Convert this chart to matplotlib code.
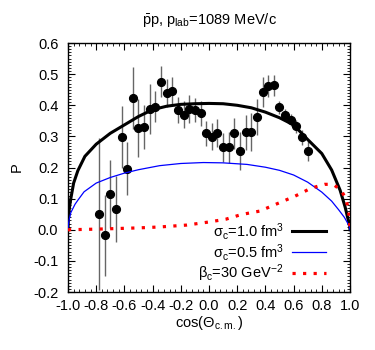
import numpy as np
import matplotlib
matplotlib.use("Agg")
import matplotlib.pyplot as plt
from matplotlib.ticker import MultipleLocator

plt.rcParams['font.family'] = ['Liberation Sans', 'DejaVu Sans']
plt.rcParams['mathtext.fontset'] = 'custom'
plt.rcParams['mathtext.rm'] = 'Liberation Sans'
plt.rcParams['mathtext.it'] = 'Liberation Sans'
plt.rcParams['mathtext.bf'] = 'Liberation Sans:bold'

# measured polarization
cos_theta = [-0.78, -0.74, -0.70, -0.66, -0.62, -0.58, -0.54, -0.50, -0.46, -0.42,
             -0.38, -0.34, -0.30, -0.26, -0.22, -0.18, -0.14, -0.10, -0.06, -0.02,
             0.02, 0.06, 0.10, 0.14, 0.18, 0.22, 0.26, 0.30, 0.34, 0.38,
             0.42, 0.46, 0.50, 0.54, 0.58, 0.62, 0.66, 0.70]
pol = [0.050, -0.017, 0.115, 0.067, 0.297, 0.196, 0.424, 0.327, 0.330, 0.387,
       0.395, 0.476, 0.441, 0.446, 0.385, 0.370, 0.388, 0.385, 0.374, 0.310,
       0.299, 0.310, 0.265, 0.265, 0.310, 0.253, 0.313, 0.314, 0.361, 0.443,
       0.462, 0.464, 0.393, 0.368, 0.352, 0.332, 0.297, 0.253]
pol_err = [0.245, 0.130, 0.110, 0.105, 0.100, 0.085, 0.100, 0.093, 0.070, 0.080,
           0.050, 0.050, 0.045, 0.045, 0.043, 0.043, 0.045, 0.040, 0.040, 0.040,
           0.043, 0.045, 0.046, 0.050, 0.050, 0.060, 0.057, 0.060, 0.058, 0.047,
           0.035, 0.033, 0.020, 0.020, 0.020, 0.020, 0.025, 0.032]

# model curves
x_s10 = [-1.0, -0.997, -0.99, -0.98, -0.96, -0.93, -0.88, -0.8, -0.7, -0.6, -0.5, -0.4,
         -0.3, -0.2, -0.1, 0.0, 0.1, 0.2, 0.3, 0.4, 0.5, 0.6, 0.7, 0.8, 0.87, 0.93,
         0.965, 0.988, 0.997, 1.0]
y_s10 = [0.0, 0.035, 0.07, 0.10, 0.15, 0.19, 0.236, 0.275, 0.31, 0.337, 0.364, 0.386,
         0.397, 0.403, 0.405, 0.406, 0.405, 0.400, 0.392, 0.378, 0.360, 0.337, 0.290,
         0.245, 0.192, 0.127, 0.074, 0.031, 0.012, 0.0]

x_s05 = [-1.0, -0.997, -0.99, -0.98, -0.95, -0.93, -0.886, -0.8, -0.7, -0.6, -0.5,
         -0.35, -0.2, -0.04, 0.1, 0.27, 0.4, 0.5, 0.6, 0.7, 0.8, 0.87, 0.92, 0.96,
         0.985, 0.997, 1.0]
y_s05 = [0.0, 0.018, 0.036, 0.055, 0.082, 0.095, 0.122, 0.150, 0.168, 0.182, 0.193,
         0.206, 0.213, 0.216, 0.215, 0.210, 0.201, 0.191, 0.176, 0.153, 0.121, 0.092,
         0.064, 0.040, 0.020, 0.008, 0.0]

x_beta = [-1.0, -0.8, -0.5, -0.35, -0.16, 0.0, 0.12, 0.23, 0.36, 0.49, 0.61, 0.66,
          0.72, 0.78, 0.82, 0.86, 0.89, 0.94, 0.97, 0.988, 0.995, 1.0]
y_beta = [0.0, 0.002, 0.006, 0.009, 0.015, 0.025, 0.034, 0.049, 0.060, 0.085, 0.108,
          0.119, 0.133, 0.141, 0.146, 0.146, 0.143, 0.125, 0.100, 0.068, 0.038, 0.0]

dotted = (0, (1, 2.3))
fs = 10.5

fig = plt.figure(figsize=(3.75, 3.5), dpi=100)
ax = fig.add_axes([0.1813, 0.1657, 0.752, 0.7113])

ax.errorbar(cos_theta, pol, yerr=pol_err, fmt='o', color='black', ms=5.6,
            ecolor='#666666', elinewidth=1.0, capsize=0, zorder=3)
l1, = ax.plot(x_s10, y_s10, color='black', lw=2.2, zorder=4)
l2, = ax.plot(x_s05, y_s05, color='#0000ff', lw=0.9, zorder=4)
l3, = ax.plot(x_beta, y_beta, color='red', lw=2.3, linestyle=dotted,
              dash_capstyle='butt', zorder=4)

ax.set_xlim(-1.0, 1.0)
ax.set_ylim(-0.2, 0.6)
ax.xaxis.set_major_locator(MultipleLocator(0.2))
ax.xaxis.set_minor_locator(MultipleLocator(0.04))
ax.yaxis.set_major_locator(MultipleLocator(0.1))
ax.yaxis.set_minor_locator(MultipleLocator(0.01))
ax.xaxis.set_major_formatter(plt.FuncFormatter(lambda v, p: '%.1f' % v))
ax.yaxis.set_major_formatter(plt.FuncFormatter(lambda v, p: '%.1f' % v))
ax.tick_params(which='both', direction='in', top=True, right=True, labelsize=fs)
ax.tick_params(which='major', length=5, width=0.8)
ax.tick_params(which='minor', length=2.5, width=0.6)
ax.tick_params(axis='x', pad=5)
ax.tick_params(axis='y', pad=7)
for s in ax.spines.values():
    s.set_linewidth(1.0)

ax.set_xlabel(r'cos($\Theta_{\rm c.m.}$)', fontsize=fs, labelpad=1)
ax.set_ylabel('P', fontsize=fs, labelpad=7)
ax.set_title(r'$\bar{\rm p}$p, p$_{\rm lab}$=1089 MeV/c', fontsize=fs, pad=14)

# legend, gnuplot style: text right aligned, sample on the right
labels = [r'$\sigma_{\rm c}$=1.0 fm$^3$', r'$\sigma_{\rm c}$=0.5 fm$^3$',
          r'$\beta_{\rm c}$=30 GeV$^{-2}$']
styles = ['-', '-', dotted]
rows = [0.245, 0.16, 0.075]
for h, lab, ls, yr in zip([l1, l2, l3], labels, styles, rows):
    ax.text(0.765, yr, lab, transform=ax.transAxes, ha='right', va='center',
            fontsize=fs)
    ax.plot([0.795, 0.915], [yr, yr], transform=ax.transAxes, color=h.get_color(),
            lw=h.get_linewidth(), linestyle=ls, dash_capstyle='butt')

fig.savefig('out.png', dpi=100)
